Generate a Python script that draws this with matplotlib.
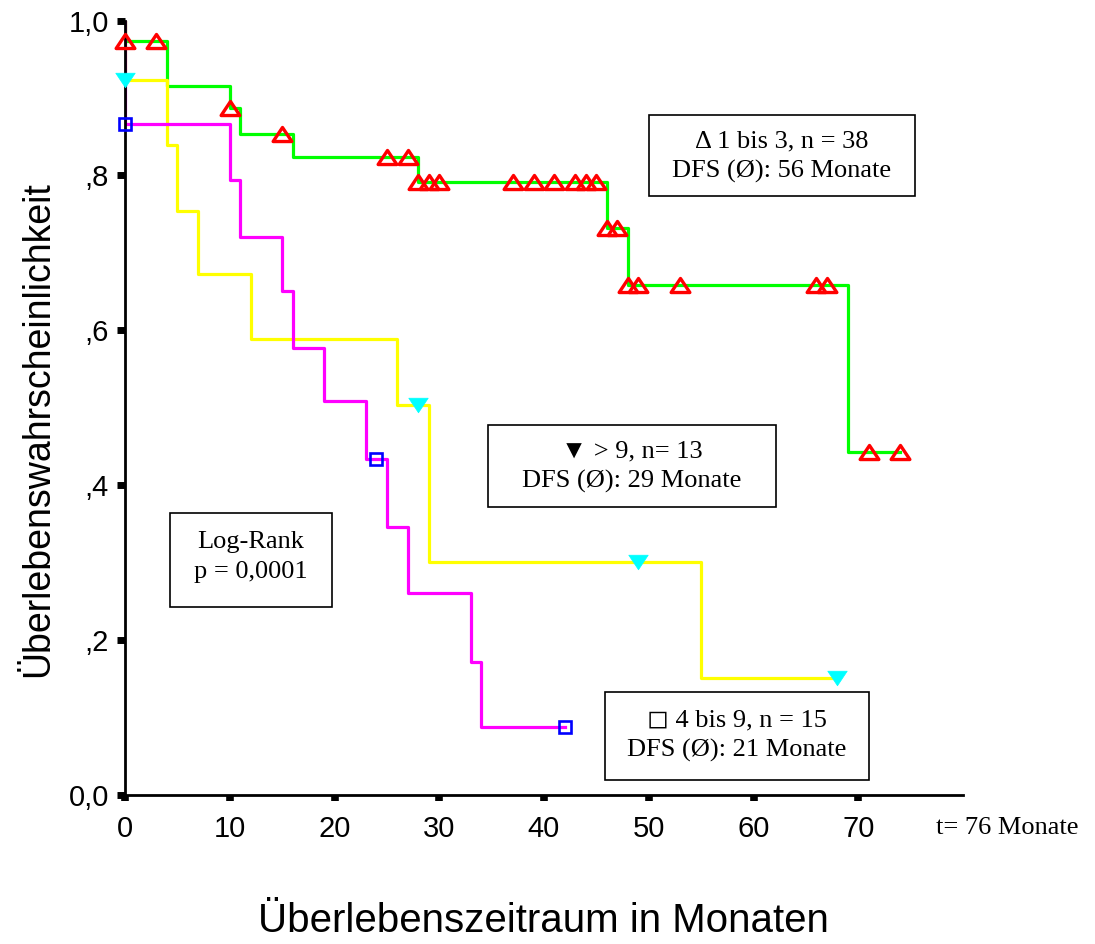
import numpy as np
import matplotlib.pyplot as plt
from matplotlib.patches import Rectangle
from matplotlib.path import Path

# Kaplan-Meier curves (months, survival probability).
# Each step list starts at 1.0 and drops right at t = 0.

green_times = [0, 0, 4, 10, 11, 16, 28, 46, 48, 69, 74]
green_surv = [1.0, 0.974, 0.915, 0.887, 0.853, 0.824, 0.791, 0.732, 0.658, 0.442, 0.442]
green_censored = [0, 3, 10, 15, 25, 27, 28, 29, 30, 37, 39, 41, 43, 44, 45,
                  46, 47, 48, 49, 53, 66, 67, 71, 74]

yellow_times = [0, 0, 4, 5, 7, 12, 26, 29, 55, 68]
yellow_surv = [1.0, 0.923, 0.839, 0.754, 0.673, 0.589, 0.504, 0.301, 0.150, 0.150]
yellow_censored = [0, 28, 49, 68]

magenta_times = [0, 0, 10, 11, 15, 16, 19, 23, 25, 27, 33, 34, 42]
magenta_surv = [1.0, 0.867, 0.794, 0.720, 0.651, 0.577, 0.508, 0.434, 0.346,
                0.261, 0.171, 0.087, 0.087]
magenta_censored = [0, 24, 42]

x_ticks = [0, 10, 20, 30, 40, 50, 60, 70]
y_ticks = [0.0, 0.2, 0.4, 0.6, 0.8, 1.0]
y_tick_labels = ["0,0", ",2", ",4", ",6", ",8", "1,0"]

SANS = "Liberation Sans"
SERIF = ["Liberation Serif", "DejaVu Sans"]

W, H = 1095, 944
fig = plt.figure(figsize=(W / 100, H / 100), dpi=100)
ax = fig.add_axes([125 / W, 1 - 794.5 / H, (963 - 125) / W, (794.5 - 20.7) / H])


def level_at(times, surv, t):
    # value of the step function just after time t
    idx = np.searchsorted(times, t, side="right") - 1
    return np.asarray(surv)[idx]


tri_up = Path([(-1, -0.75), (1, -0.75), (0, 0.75), (0, 0)], closed=True)
tri_down = Path([(-1, 0.75), (1, 0.75), (0, -0.75), (0, 0)], closed=True)

# green group
ax.step(green_times, green_surv, where="post", color="#00FF00", lw=2.3)
ax.plot(green_censored, level_at(green_times, green_surv, green_censored),
        linestyle="none", marker=tri_up, markersize=13.5,
        mfc="none", mec="#FF0000", mew=2.4, clip_on=False, zorder=4)

# yellow group
ax.step(yellow_times, yellow_surv, where="post", color="#FFFF00", lw=2.3)
ax.plot(yellow_censored, level_at(yellow_times, yellow_surv, yellow_censored),
        linestyle="none", marker=tri_down, markersize=14,
        mfc="#00FFFF", mec="#00FFFF", mew=0.5, clip_on=False, zorder=4)

# magenta group
ax.step(magenta_times, magenta_surv, where="post", color="#FF00FF", lw=2.3)
ax.plot(magenta_censored, level_at(magenta_times, magenta_surv, magenta_censored),
        linestyle="none", marker="s", markersize=9,
        mfc="none", mec="#0000FF", mew=1.9, clip_on=False, zorder=4)

ax.set_xlim(0, 80)
ax.set_ylim(0, 1.0)
ax.set_xticks(x_ticks)
ax.set_xticklabels([str(t) for t in x_ticks], family=SANS, fontsize=21)
ax.set_yticks(y_ticks)
ax.set_yticklabels(y_tick_labels, family=SANS, fontsize=21)
ax.tick_params(axis="x", direction="out", length=4.5, width=5.5, pad=10)
ax.tick_params(axis="y", direction="out", length=5.5, width=5, pad=6)

for side in ["top", "right"]:
    ax.spines[side].set_visible(False)
for side in ["left", "bottom"]:
    ax.spines[side].set_linewidth(2.0)


def box(x0, y0, x1, y1):
    fig.patches.append(Rectangle((x0 / W, 1 - y1 / H), (x1 - x0) / W, (y1 - y0) / H,
                                 transform=fig.transFigure, fill=False,
                                 ec="black", lw=1.2))


def label(cx, cy, text, size=19, **kw):
    fig.text(cx / W, 1 - cy / H, text, ha="center", va="center",
             family=SERIF, fontsize=size, linespacing=1.42, **kw)


box(649, 115, 915, 196)
label(782, 157, "\u0394 1 bis 3, n = 38\nDFS (\u00d8): 56 Monate")

box(488, 425, 776, 507)
label(632, 467, "\u25bc > 9, n= 13\nDFS (\u00d8): 29 Monate")

box(170, 513, 332, 607)
label(251, 557, "Log-Rank\np = 0,0001")

box(605, 692, 869, 780)
label(737, 736, "\u25fb 4 bis 9, n = 15\nDFS (\u00d8): 21 Monate")

fig.text(1078 / W, 1 - 828 / H, "t= 76 Monate", ha="right", va="center",
         family=SERIF, fontsize=19)

fig.text(543 / W, 1 - 921 / H, "Überlebenszeitraum in Monaten",
         ha="center", va="center", family=SANS, fontsize=29)
fig.text(38 / W, 1 - 429 / H, "Überlebenswahrscheinlichkeit", rotation=90,
         ha="center", va="center", family=SANS, fontsize=27)

fig.savefig("out.png", dpi=100)
